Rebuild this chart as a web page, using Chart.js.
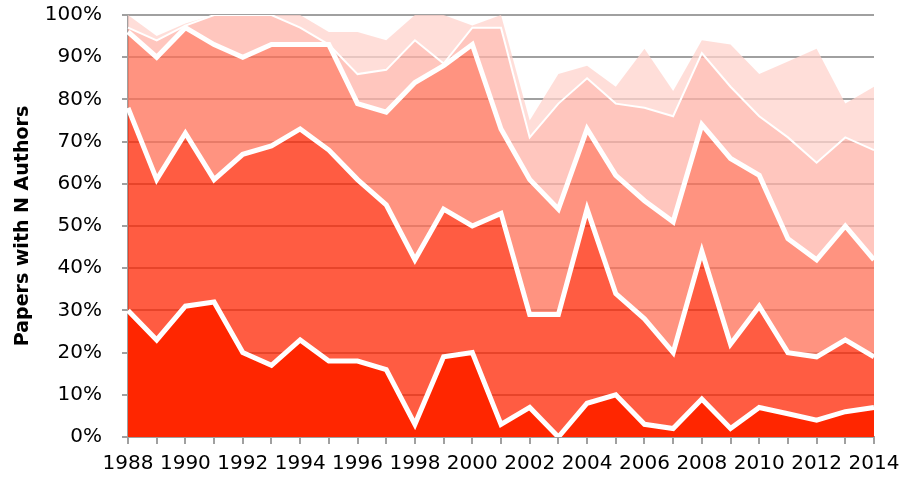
<!DOCTYPE html>
<html>
<head>
<meta charset="utf-8">
<script src="https://cdn.jsdelivr.net/npm/chart.js@4/dist/chart.umd.min.js"></script>
<style>
  html, body { margin: 0; padding: 0; background: #fff; }
  #wrap { width: 903px; height: 486px; }
</style>
</head>
<body>
<div id="wrap"><canvas id="authors"></canvas></div>
<script>
const years = ["1988","1989","1990","1991","1992","1993","1994","1995","1996","1997","1998","1999","2000",
  "2001","2002","2003","2004","2005","2006","2007","2008","2009","2010","2011","2012","2013","2014"];

// share of papers per band (stacked)
const band1 = [30,23,31,32,20,17,23,18,18,16,3,19,20,3,7,0,8,10,3,2,9,2,7,5.5,4,6,7];
const band2 = [48,38,41,29,47,52,50,50,43,39,39,35,30,50,22,29,46,24,25,18,35,20,24,14.5,15,17,12];
const band3 = [18,29,25,32,23,24,20,25,18,22,42,34,43,20,32,25,19,28,28,31,30,44,31,27,23,27,23];
const band4 = [1,4,0.5,7,10,7,4,0,7,10,10,0.5,4,24,10,25,12,17,22,25,17,17,14,24,23,21,26];
const band5 = [3,1,0.5,0,0,0,3,3,10,7,6,11.5,0.5,3,4,7,3,4,14,6,3,10,10,18,27,8,15];

const ctx = document.getElementById("authors");
const tickFont = { family: "DejaVu Sans", size: 20 };

// upper areas are a bit see-through so the gridlines show like in excel
new Chart(ctx, {
  type: "line",
  data: {
    labels: years,
    datasets: [
      { data: band1, backgroundColor: "#FF2600", borderColor: "#FFFFFF", borderWidth: 5, fill: "origin" },
      { data: band2, backgroundColor: "rgba(255,38,3,0.75)", borderColor: "#FFFFFF", borderWidth: 5, fill: "-1" },
      { data: band3, backgroundColor: "rgba(255,111,86,0.75)", borderColor: "#FFFFFF", borderWidth: 5, fill: "-1" },
      { data: band4, backgroundColor: "rgba(255,179,168,0.75)", borderColor: "#FFFFFF", borderWidth: 2, fill: "-1" },
      { data: band5, backgroundColor: "rgba(255,211,204,0.75)", borderColor: "rgba(0,0,0,0)", borderWidth: 0, fill: "-1" },
    ],
  },
  options: {
    responsive: true,
    maintainAspectRatio: false,
    animation: false,
    elements: { point: { radius: 0 }, line: { tension: 0, borderJoinStyle: "miter" } },
    layout: { padding: 0 },
    plugins: { legend: { display: false }, tooltip: { enabled: false } },
    scales: {
      x: {
        offset: false,
        grid: { display: true, drawOnChartArea: false, drawTicks: true, tickLength: 7, color: "#A0A0A0", lineWidth: 2 },
        border: { color: "#A0A0A0", width: 2 },
        ticks: {
          autoSkip: false,
          maxRotation: 0,
          padding: 8,
          color: "#000",
          font: tickFont,
          callback: function (val, i) { return i % 2 === 0 ? this.getLabelForValue(val) : ""; },
        },
        afterFit: (s) => { s.height = 49; s.paddingRight = 29; s.paddingLeft = 0; },
      },
      y: {
        stacked: true,
        min: 0,
        max: 100,
        grid: { color: "#A0A0A0", lineWidth: 2, tickLength: 6 },
        border: { color: "#A0A0A0", width: 2 },
        ticks: { stepSize: 10, padding: 20, color: "#000", font: tickFont, callback: (v) => v + "%" },
        title: { display: true, text: "Papers with N Authors", color: "#000", font: { family: "DejaVu Sans", size: 19, weight: "bold" }, padding: { top: 12, bottom: 0 } },
        afterFit: (s) => { s.width = 128; s.paddingTop = 15; s.paddingBottom = 0; },
      },
    },
  },
});
</script>
</body>
</html>
